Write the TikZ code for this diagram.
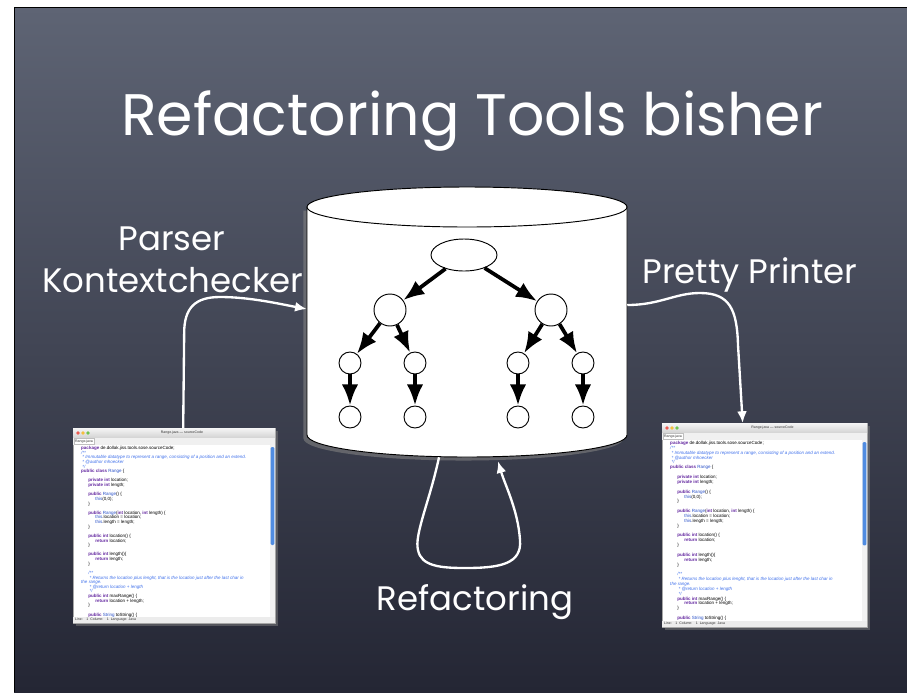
\documentclass[tikz,border=0pt]{standalone}
\usepackage{fontspec}
\setmainfont{Poppins}
\newfontfamily\codefont{Liberation Sans}
\usepackage{tikz}
\usetikzlibrary{arrows.meta,shapes,positioning,shadows}
\usepackage{xcolor}
\definecolor{slatetop}{RGB}{94,100,116}
\definecolor{slatemid}{RGB}{70,75,92}
\definecolor{slatebottom}{RGB}{36,38,52}
\definecolor{javakw}{RGB}{100,40,160}
\definecolor{javacm}{RGB}{60,110,235}
\definecolor{javaid}{RGB}{40,80,200}
\definecolor{winred}{RGB}{235,90,80}
\definecolor{winyellow}{RGB}{245,190,60}
\definecolor{wingreen}{RGB}{110,195,80}
\definecolor{scrollblue}{RGB}{80,140,225}
\tikzstyle{chalk} = [text=white, inner sep=0pt, font=\fontsize{29}{35}\selectfont]
\tikzstyle{treenode} = [circle, draw=black, fill=white, line width=0.8pt, inner sep=0pt]
\tikzstyle{treearrow} = [line width=3.2pt, -{Latex[length=18pt,width=14pt]}]
\tikzstyle{flow} = [line width=2pt, white, -{Latex[length=10pt,width=8.5pt]}]
\tikzstyle{window} = [rectangle, anchor=north west, inner sep=0pt, draw=gray!70, line width=0.3pt, fill=white, drop shadow={opacity=0.5, shadow xshift=2pt, shadow yshift=-2pt}]
\tikzstyle{wintext} = [inner sep=0pt, font=\codefont\fontsize{3}{3.5}\selectfont, text=black!80]
\tikzstyle{codetext} = [inner sep=0pt, align=left, anchor=north west]
\newcommand{\jkw}[1]{\textcolor{javakw}{\textbf{#1}}}
\newcommand{\jcm}[1]{\textcolor{javacm}{\textit{#1}}}
\newcommand{\jid}[1]{\textcolor{javaid}{#1}}
\newcommand{\jtab}{\hspace*{6pt}}
\newcommand{\rangesource}{%
\jkw{package} de.dollak.jiss.tools.sose.sourceCode;\\
\jcm{/**}\\
\jcm{\ * Immutable datatype to represent a range, consisting of a position and an extend.}\\
\jcm{\ * @author mhoecker}\\
\jcm{\ */}\\
\jkw{public class} \jid{Range} \{\\
\mbox{}\\
\jtab\jkw{private int} location;\\
\jtab\jkw{private int} length;\\
\mbox{}\\
\jtab\jkw{public} \jid{Range}() \{\\
\jtab\jtab\jid{this}(0,0);\\
\jtab\}\\
\mbox{}\\
\jtab\jkw{public} \jid{Range}(\jkw{int} location, \jkw{int} length) \{\\
\jtab\jtab\jid{this}.location = location;\\
\jtab\jtab\jid{this}.length = length;\\
\jtab\}\\
\mbox{}\\
\jtab\jkw{public int} location() \{\\
\jtab\jtab\jkw{return} location;\\
\jtab\}\\
\mbox{}\\
\jtab\jkw{public int} length()\{\\
\jtab\jtab\jkw{return} length;\\
\jtab\}\\
\mbox{}\\
\jtab\jcm{/**}\\
\jtab\jcm{\ * Returns the location plus lenght, that is the location just after the last char in}\\
\jcm{the range.}\\
\jtab\jcm{\ * @return location + length}\\
\jtab\jcm{\ */}\\
\jtab\jkw{public int} maxRange() \{\\
\jtab\jtab\jkw{return} location + length;\\
\jtab\}\\
\mbox{}\\
\jtab\jkw{public} \jid{String} toString() \{}

\begin{document}
\begin{tikzpicture}[x=0.03cm, y=-0.03cm]
\useasboundingbox (0,0) rectangle (907,692);
% Slide
\fill[white] (0,0) rectangle (907,692);
\shade[top color=slatetop, middle color=slatemid, bottom color=slatebottom] (14,7) rectangle (907,692);
\draw[black, line width=0.8pt] (14,692) -- (14,7) -- (907,7);

% Title and labels
\node (title) [chalk, anchor=base, font=\fontsize{50}{58}\selectfont] at (472,135) {Refactoring Tools bisher};
\node (parser) [chalk, anchor=base] at (172,250) {Parser};
\node (checker) [chalk, anchor=base] at (173,292) {Kontextchecker};
\node (printer) [chalk, anchor=base] at (750,283) {Pretty Printer};
\node (refac) [chalk, anchor=base] at (475,610) {Refactoring};

% Cylinder
\draw[line width=0.8pt, fill=white, drop shadow={opacity=0.6, shadow xshift=-3pt, shadow yshift=-3pt}]
  (307,207) -- (307,435) arc[start angle=180, end angle=0, x radius=160, y radius=22] -- (627,207) -- cycle;
\draw[line width=0.8pt, fill=white] (467,207) ellipse [x radius=160, y radius=20];
\node (db) [minimum width=9.6cm, minimum height=8.88cm, inner sep=0pt] at (467,309) {};

% Tree
\node (root) [ellipse, draw=black, fill=white, line width=0.8pt, minimum width=1.98cm, minimum height=0.96cm] at (464,255) {};
\node (nl) [treenode, minimum size=0.96cm] at (390,310) {};
\node (nr) [treenode, minimum size=0.96cm] at (551,310) {};
\draw[treearrow] (root) -- (nl);
\draw[treearrow] (root) -- (nr);
\foreach \p/\up/\x in {a/nl/350, b/nl/415, c/nr/518, d/nr/583} {
  \node (m\p) [treenode, minimum size=0.66cm] at (\x,363) {};
  \node (l\p) [treenode, minimum size=0.66cm] at (\x,417) {};
  \draw[treearrow] (\up) -- (m\p);
  \draw[treearrow] (m\p) -- (l\p);
}

% Editor windows
\foreach \win/\wx/\wy/\ww/\wh/\lh in {srcL/73/428/202/195/3.95, srcR/662/423/205/204/4.15} {
  \begin{scope}[shift={(\wx,\wy)}]
    \node (\win) [window, minimum width=\ww*0.03cm, minimum height=\wh*0.03cm] at (0,0) {};
    \shade[top color=gray!8, bottom color=gray!35] (0,0) rectangle (\ww,10);
    \foreach \c/\cx in {winred/5, winyellow/10, wingreen/15}
      \fill[\c] (\cx,5) circle (1.8);
    \node (\win-title) [wintext] at (\ww/2+8,5) {Range.java — sourceCode};
    \fill[gray!12] (0,10) rectangle (\ww,17);
    \draw[gray!50, line width=0.2pt, fill=white] (1,10.5) rectangle (21,16.5);
    \node (\win-tab) [wintext] at (11,13.5) {Range.java};
    \fill[gray!10] (\ww-5,17) rectangle (\ww,\wh-6);
    \fill[scrollblue, rounded corners=1pt] (\ww-4.3,19) rectangle (\ww-0.7,\wh*0.6);
    \fill[gray!15] (0,\wh-6) rectangle (\ww,\wh);
    \node (\win-status) [wintext, anchor=west] at (2,\wh-3) {Line:\quad 1\ \ Column:\quad 1\ \ Language: Java};
    \node (\win-code) [codetext, font=\codefont\fontsize{3.85}{\lh}\selectfont] at (8,18) {\rangesource};
  \end{scope}
}

% Connectors
\draw[flow] ([xshift=0.27cm]srcL.north) -- ++(1,-95) .. controls +(0,-25) and (195,297) .. (220,297)
  .. controls (250,297) and (280,304) .. (db.west);
\draw[flow] ([yshift=0.12cm]db.east) .. controls (660,305) and (675,293) .. (700,293)
  .. controls (730,293) and (737,310) .. (738,345) -- ([xshift=-0.66cm]srcR.north);
\draw[flow] ([xshift=-0.84cm]db.south) .. controls (430,500) and (414,535) .. (418,550)
  .. controls (421,566) and (440,568) .. (465,568)
  .. controls (500,568) and (522,564) .. (520,540)
  .. controls (518,510) and (505,485) .. ([xshift=0.93cm, yshift=-0.12cm]db.south);
\end{tikzpicture}
\end{document}
